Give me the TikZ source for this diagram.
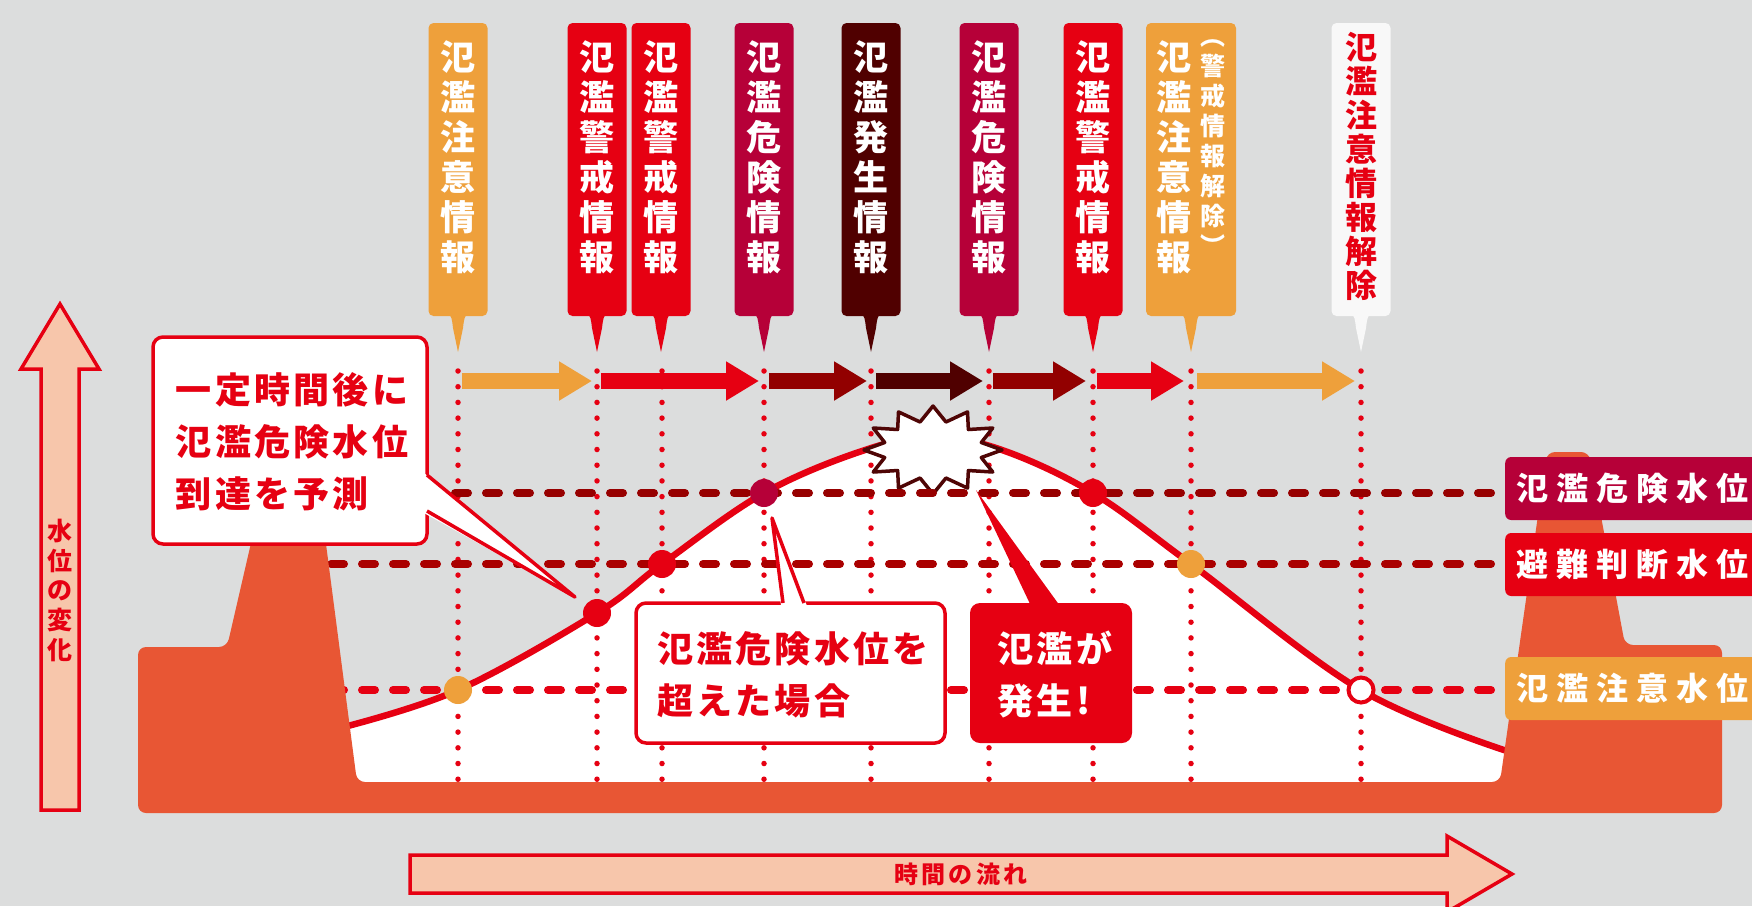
\documentclass[tikz,border=0pt]{standalone}
\usepackage{fontspec}
\newfontfamily\jp{Noto Sans CJK JP}
\newfontfamily\jpC{Noto Sans CJK JP}[LetterSpace=9]
\newfontfamily\jpL{Noto Sans CJK JP}[LetterSpace=25]
\newfontfamily\jpT{Noto Sans CJK JP}[LetterSpace=14]
\usetikzlibrary{arrows.meta}
\definecolor{bg}{HTML}{DCDDDD}
\definecolor{cOr}{HTML}{EEA03B}
\definecolor{cRed}{HTML}{E60012}
\definecolor{cCrim}{HTML}{B60038}
\definecolor{cDark}{HTML}{500000}
\definecolor{cDRed}{HTML}{920000}
\definecolor{cLevee}{HTML}{E85634}
\definecolor{cPink}{HTML}{F7C6AB}
\definecolor{cWB}{HTML}{F8F8F8}
\definecolor{cDashA}{HTML}{970000}
\definecolor{cDashB}{HTML}{AA0000}
\definecolor{cStar}{HTML}{4F0505}
\newcommand\vstack[7]{%
  \foreach \vch [count=\i] in {#7} {%
    \node[anchor=base, inner sep=0pt, text=#2, font=\jp\bfseries\fontsize{#6}{#6}\selectfont] (#1\i) at (#3, {#4+0.38*#6+(\i-1)*#5}) {\vch};
  }%
}
\newcommand\tptr[2]{\fill[#2] ({#1-11},312) .. controls ({#1-6},316) and ({#1-6},320) .. ({#1-5},328) -- (#1,352) -- ({#1+5},328) .. controls ({#1+6},320) and ({#1+6},316) .. ({#1+11},312) -- cycle;}
\begin{document}
\begin{tikzpicture}[x=1pt,y=-1pt,
  tbox/.style={rectangle, rounded corners=5pt, minimum width=59pt, minimum height=293pt, inner sep=0pt, fill=#1},
  lbox/.style={rectangle, rounded corners=6pt, minimum width=290pt, minimum height=63pt, inner sep=0pt, anchor=west, fill=#1},
  ltext/.style={anchor=west, inner sep=0pt, text=white, font=\jpL\bfseries\fontsize{32}{32}\selectfont},
  lvl/.style={draw=#1, line width=8pt, dash pattern=on 13pt off 18pt, line cap=round},
  vdots/.style={draw=cRed, line width=5.5pt, line cap=round, dash pattern=on 0pt off 15.7pt},
  tl/.style={draw=#1, line width=16pt, -{Triangle[length=33pt,width=37pt]}},
  cdot/.style={circle, inner sep=0pt, minimum size=28pt, fill=#1},
  ctext/.style={inner sep=0pt, align=left, font=\jpC\bfseries\fontsize{36}{52}\selectfont},
]
\fill[bg] (0,0) rectangle (1752,906);
\useasboundingbox (0,0) rectangle (1752,906);

% water
\fill[white] plot[smooth, tension=0.6] coordinates {(340,728) (458,690) (597,613) (662,564) (764,493) (865,450) (933,437) (1002,450) (1093,493) (1191,564) (1361,690) (1510,752)} -- (1510,790) -- (340,790) -- cycle;

% vertical dotted lines and timeline coordinates
\foreach \x [count=\i] in {458,597,662,764,871,989,1093,1191,1361} {
  \coordinate (t\i) at (\x,381);
  \coordinate (vt\i) at (\x,371);
  \coordinate (vb\i) at (\x,780);
  \draw[vdots] (vt\i) -- (vb\i);
}

% curve
\draw[cRed, line width=6.5pt] plot[smooth, tension=0.6] coordinates {(340,728) (458,690) (597,613) (662,564) (764,493) (865,450) (933,437) (1002,450) (1093,493) (1191,564) (1361,690) (1510,752)};

% burst
\draw[cStar, fill=white, line width=3.5pt, line join=round] ({933+69},450) \foreach \a in {0,30,...,330} { -- ({933+69*cos(\a)},{450-44*sin(\a)}) -- ({933+50*cos(\a+15)},{450-29*sin(\a+15)}) } -- cycle;

% level lines
\draw[lvl=cDashA] (455,493) -- (1500,493);
\draw[lvl=cDashB] (300,564) -- (1500,564);
\draw[lvl=cRed] (300,690) -- (1500,690);

% levee
\fill[cLevee, rounded corners=8pt] (138,813) -- (138,647) -- (227,647) -- (272,452) -- (314,452) -- (357,782) -- (1500,782) -- (1547,452) -- (1589,452) -- (1625,645) -- (1722,645) -- (1722,813) -- cycle;

% markers on curve
\node[cdot=cOr] (p1) at (458,690) {};
\node[cdot=cRed] (p2) at (597,613) {};
\node[cdot=cRed] (p3) at (662,564) {};
\node[cdot=cCrim] (p4) at (764,493) {};
\node[cdot=cRed] (p5) at (1093,493) {};
\node[cdot=cOr] (p6) at (1191,564) {};
\node[circle, inner sep=0pt, minimum size=25pt, fill=white, draw=cRed, line width=4pt] (p7) at (1361,690) {};

% callout 1
\node[rectangle, rounded corners=10pt, draw=cRed, fill=white, line width=3.5pt, minimum width=274pt, minimum height=207pt, inner sep=0pt] (c1) at (290,440.5) {};
\fill[white] (424,473) -- (575,597) -- (424,513) -- cycle;
\draw[cRed, line width=3.5pt, line join=round] (427,475) -- (575,597) -- (427,511);
\node[ctext, text=cRed] (c1t) at (292,442) {一定時間後に\\氾濫危険水位\\到達を予測};

% callout 2
\node[rectangle, rounded corners=10pt, draw=cRed, fill=white, line width=3.5pt, minimum width=309pt, minimum height=140pt, inner sep=0pt] (c2) at (790.5,673) {};
\fill[white] (781,606) -- (772,518) -- (807,606) -- cycle;
\draw[cRed, line width=3.5pt, line join=round] (783,603) -- (772,518) -- (804,603);
\node[ctext, text=cRed] (c2t) at (793,675) {氾濫危険水位を\\超えた場合};

% callout 3
\node[rectangle, rounded corners=10pt, fill=cRed, minimum width=162pt, minimum height=140pt, inner sep=0pt] (c3) at (1051,673) {};
\fill[cRed] (1031,606) -- (976,490) -- (1060,606) -- cycle;
\node[ctext, text=white] (c3t) at (1055,674) {氾濫が\\発生!};

% level labels
\node[lbox=cCrim] (L1) at (1505,488.5) {};
\node[ltext] (L1t) at (1516,488.5) {氾濫危険水位};
\node[lbox=cRed] (L2) at (1505,564.5) {};
\node[ltext] (L2t) at (1516,564.5) {避難判断水位};
\node[lbox=cOr] (L3) at (1505,688.5) {};
\node[ltext] (L3t) at (1516,688.5) {氾濫注意水位};

% top info boxes
\node[tbox=cOr] (b1) at (458,169.5) {}; \tptr{458}{cOr}
\node[tbox=cRed] (b2) at (597,169.5) {}; \tptr{597}{cRed}
\node[tbox=cRed] (b3) at (661,169.5) {}; \tptr{661}{cRed}
\node[tbox=cCrim] (b4) at (764,169.5) {}; \tptr{764}{cCrim}
\node[tbox=cDark] (b5) at (871,169.5) {}; \tptr{871}{cDark}
\node[tbox=cCrim] (b6) at (989,169.5) {}; \tptr{989}{cCrim}
\node[tbox=cRed] (b7) at (1093,169.5) {}; \tptr{1093}{cRed}
\node[tbox=cOr, minimum width=90pt] (b8) at (1191,169.5) {}; \tptr{1191}{cOr}
\node[tbox=cWB] (b9) at (1361,169.5) {}; \tptr{1361}{cWB}
\vstack{s1}{white}{458}{57}{40}{35}{氾,濫,注,意,情,報}
\vstack{s2}{white}{597}{57}{40}{35}{氾,濫,警,戒,情,報}
\vstack{s3}{white}{661}{57}{40}{35}{氾,濫,警,戒,情,報}
\vstack{s4}{white}{764}{57}{40}{35}{氾,濫,危,険,情,報}
\vstack{s5}{white}{871}{57}{40}{35}{氾,濫,発,生,情,報}
\vstack{s6}{white}{989}{57}{40}{35}{氾,濫,危,険,情,報}
\vstack{s7}{white}{1093}{57}{40}{35}{氾,濫,警,戒,情,報}
\vstack{s8}{white}{1174}{57}{40}{35}{氾,濫,注,意,情,報}
\vstack{s8b}{white}{1213}{36}{30}{25}{︵,警,戒,情,報,解,除,︶}
\vstack{s9}{cRed}{1361}{47}{34}{32}{氾,濫,注,意,情,報,解,除}

% timeline arrows
\draw[tl=cOr] ([xshift=4pt]t1) -- ([xshift=-5pt]t2);
\draw[tl=cRed] ([xshift=4pt]t2) -- ([xshift=-5pt]t4);
\draw[tl=cDRed] ([xshift=5pt]t4) -- ([xshift=-4pt]t5);
\draw[tl=cDark] ([xshift=5pt]t5) -- ([xshift=-6pt]t6);
\draw[tl=cDRed] ([xshift=4pt]t6) -- ([xshift=-7pt]t7);
\draw[tl=cRed] ([xshift=4pt]t7) -- ([xshift=-7pt]t8);
\draw[tl=cOr] ([xshift=6pt]t8) -- ([xshift=-6pt]t9);

% axes
\draw[cRed, fill=cPink, line width=3.5pt] (41,810) -- (41,369) -- (21,369) -- (60,304) -- (99,369) -- (79,369) -- (79,810) -- cycle;
\vstack{ax}{cRed}{60}{531}{29.7}{25}{水,位,の,変,化}
\draw[cRed, fill=cPink, line width=3.5pt] (410,855) -- (1447,855) -- (1447,836) -- (1512,874) -- (1447,912) -- (1447,893) -- (410,893) -- cycle;
\node[inner sep=0pt, text=cRed, font=\jpT\bfseries\fontsize{24}{24}\selectfont] (tx) at (961,874) {時間の流れ};
\end{tikzpicture}
\end{document}
